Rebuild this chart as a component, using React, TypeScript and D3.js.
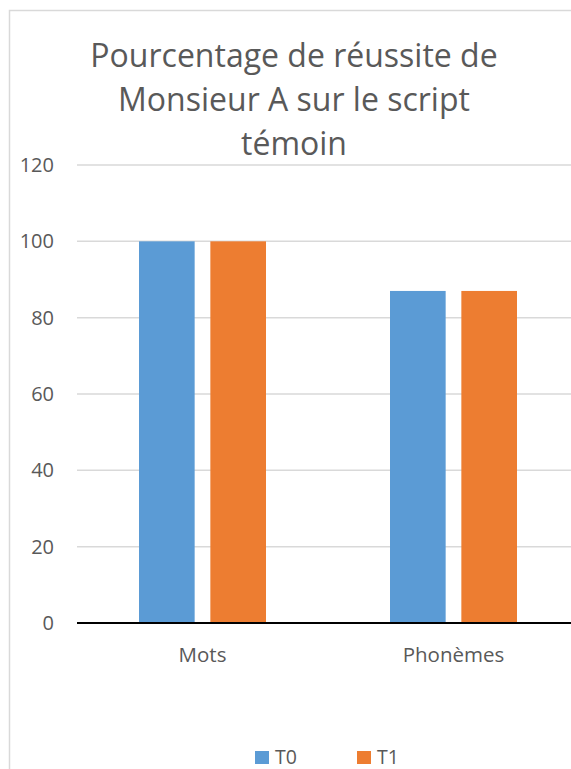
import React from "react";
import * as d3 from "d3";

const categories = ["Mots", "Phonèmes"];
const seriesNames = ["T0", "T1"];
const T0 = [100, 87];
const T1 = [100, 87];
const yTicks = [0, 20, 40, 60, 80, 100, 120];
const titleLines = ["Pourcentage de réussite de", "Monsieur A sur le script", "témoin"];

const colors = ["#5B9BD5", "#ED7D31"];
const font = "'Open Sans', sans-serif";

export default function App() {
  const W = 571, H = 769;
  const y = d3.scaleLinear().domain([0, 120]).range([623, 165]);
  const x = d3.scaleBand<string>().domain(categories).range([77, 579]).paddingInner(0).paddingOuter(0);
  const xs = d3.scaleBand<string>().domain(seriesNames).range([62, 189]).paddingInner(0.22).paddingOuter(0);
  const values = [T0, T1];

  return (
    <svg width={W} height={H} style={{ position: "absolute", left: 0, top: 0, background: "#fff" }}>
      <rect x={9.5} y={10.5} width={700} height={900} fill="#fff" stroke="#d9d9d9" strokeWidth={1.5} />
      {titleLines.map((t, i) => (
        <text key={i} x={294} y={67 + i * 44} textAnchor="middle" fontFamily={font} fontSize={32} fill="#595959">
          {t}
        </text>
      ))}
      {yTicks.map((v) => (
        <g key={v}>
          {v !== 0 && <line x1={77} x2={571} y1={y(v)} y2={y(v)} stroke="#d9d9d9" strokeWidth={1.5} />}
          <text x={54} y={y(v)} dy="0.35em" textAnchor="end" fontFamily={font} fontSize={20} fill="#595959">
            {v}
          </text>
        </g>
      ))}
      {categories.map((c, ci) =>
        seriesNames.map((s, si) => (
          <rect
            key={c + s}
            x={(x(c) as number) + (xs(s) as number)}
            width={xs.bandwidth()}
            y={y(values[si][ci])}
            height={y(0) - y(values[si][ci])}
            fill={colors[si]}
          />
        ))
      )}
      <line x1={77} x2={571} y1={y(0)} y2={y(0)} stroke="#000" strokeWidth={2} />
      {categories.map((c) => (
        <text key={c} x={(x(c) as number) + x.bandwidth() / 2} y={662} textAnchor="middle" fontFamily={font} fontSize={20.5} fill="#595959">
          {c}
        </text>
      ))}
      {seriesNames.map((s, i) => (
        <g key={s}>
          <rect x={255 + i * 102} y={751} width={14} height={13} fill={colors[i]} />
          <text x={275 + i * 102} y={764} fontFamily={font} fontSize={19.5} fill="#595959">
            {s}
          </text>
        </g>
      ))}
    </svg>
  );
}
